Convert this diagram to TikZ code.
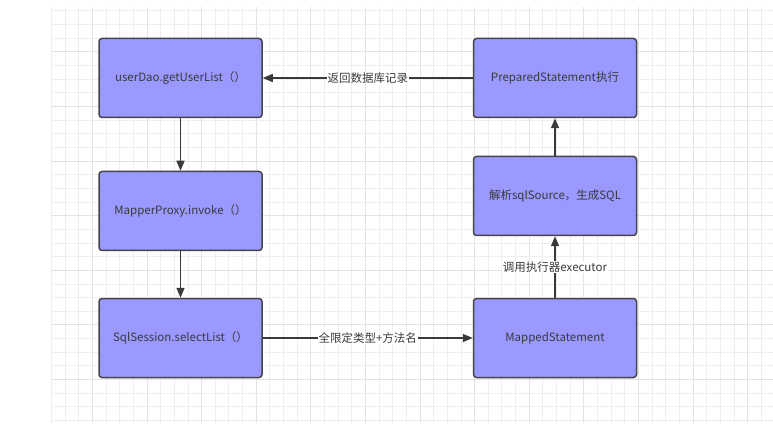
\documentclass[tikz,border=0pt]{standalone}
\usepackage{fontspec}
\setmainfont{Noto Sans CJK SC}
\usetikzlibrary{arrows.meta}
\definecolor{boxfill}{HTML}{9999FF}
\definecolor{boxline}{HTML}{454545}
\definecolor{inktext}{HTML}{3A3A3A}
\definecolor{gridminor}{HTML}{EEEEEE}
\definecolor{gridmajor}{HTML}{E2E2E2}
\tikzset{
  stepbox/.style={draw=boxline, line width=1.5pt, fill=boxfill, rounded corners=3pt,
    minimum width=163pt, minimum height=79pt, inner sep=0pt, text=inktext,
    font=\fontsize{11.5}{14}\selectfont},
  flow/.style={draw=inktext, line width=1.5pt, -{Triangle[length=10pt,width=8pt]}},
  edgelabel/.style={fill=white, inner sep=1pt, text=inktext, font=\fontsize{11.5}{14}\selectfont}
}
\begin{document}
\begin{tikzpicture}[x=1pt,y=-1pt]
\useasboundingbox (0,0) rectangle (773,438);
\fill[white] (0,0) rectangle (773,438);
% background grid
\foreach \i in {0,...,52} {
  \pgfmathsetmacro{\gx}{51.5+13.65*\i}
  \pgfmathtruncatemacro{\m}{mod(\i,4)}
  \ifnum\m=3
    \draw[gridmajor, line width=1pt] (\gx,7) -- (\gx,423);
  \else
    \draw[gridminor, line width=1pt] (\gx,7) -- (\gx,423);
  \fi
}
\foreach \j in {0,...,30} {
  \pgfmathsetmacro{\gy}{11+13.65*\j}
  \pgfmathtruncatemacro{\m}{mod(\j,4)}
  \ifnum\m=3
    \draw[gridmajor, line width=1pt] (51,\gy) -- (773,\gy);
  \else
    \draw[gridminor, line width=1pt] (51,\gy) -- (773,\gy);
  \fi
}
% left column
\node[stepbox] (dao)   at (180.5,78)  {userDao.getUserList（）};
\node[stepbox] (proxy) at (180.5,211) {MapperProxy.invoke（）};
\node[stepbox] (sess)  at (180.5,338) {SqlSession.selectList（）};
% right column
\node[stepbox] (prep)   at (555,78)  {PreparedStatement执行};
\node[stepbox] (parse)  at (555,196) {解析sqlSource，生成SQL};
\node[stepbox] (mapped) at (555,338) {MappedStatement};
% connectors
\draw[flow] (dao) -- (proxy);
\draw[flow] (proxy) -- (sess);
\draw[flow] (sess) -- node[edgelabel] {全限定类型+方法名} (mapped);
\draw[flow] (mapped) -- node[edgelabel, pos=0.5] {调用执行器executor} (parse);
\draw[flow] (parse) -- (prep);
\draw[flow] (prep) -- node[edgelabel] {返回数据库记录} (dao);
\end{tikzpicture}
\end{document}
